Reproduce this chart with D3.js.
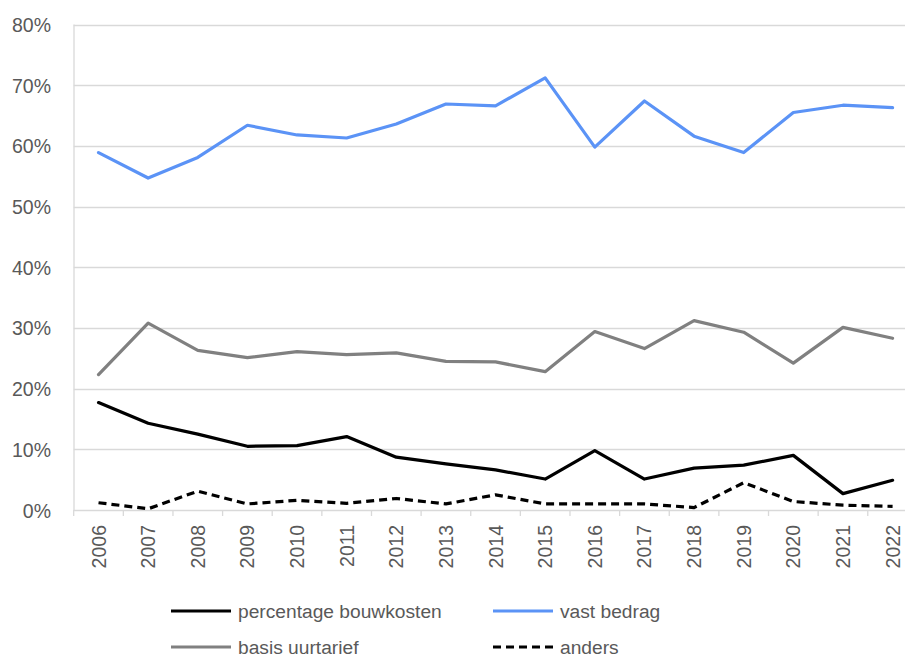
<!DOCTYPE html>
<html><head><meta charset="utf-8">
<script src="https://cdn.jsdelivr.net/npm/d3@7"></script>
<style>
html,body{margin:0;padding:0;background:#fff;}
svg{display:block;}
</style></head>
<body>
<svg id="chart" width="905" height="659"></svg>
<script>
const years = ["2006","2007","2008","2009","2010","2011","2012","2013","2014","2015","2016","2017","2018","2019","2020","2021","2022"];
const percentageBouwkosten = [17.7,14.3,12.5,10.5,10.6,12.1,8.7,7.6,6.6,5.1,9.8,5.1,6.9,7.4,9.0,2.7,4.9];
const vastBedrag = [58.9,54.7,58.1,63.4,61.8,61.3,63.6,66.9,66.6,71.2,59.8,67.4,61.6,58.9,65.5,66.7,66.3];
const basisUurtarief = [22.3,30.8,26.3,25.1,26.1,25.6,25.9,24.5,24.4,22.8,29.4,26.6,31.2,29.3,24.2,30.1,28.3];
const anders = [1.2,0.2,3.1,1.0,1.6,1.1,1.9,1.0,2.5,1.0,1.0,1.0,0.4,4.5,1.4,0.8,0.6];
const yTicks = [0,10,20,30,40,50,60,70,80];

const series = [
  {name:"percentage bouwkosten", values:percentageBouwkosten, color:"#000000", dash:null},
  {name:"vast bedrag", values:vastBedrag, color:"#5b93f6", dash:null},
  {name:"basis uurtarief", values:basisUurtarief, color:"#808080", dash:null},
  {name:"anders", values:anders, color:"#000000", dash:"8,5"}
];

const svg = d3.select("#chart");
const font = "'Liberation Sans', Arial, sans-serif";
const textColor = "#595959";
const gridColor = "#d9d9d9";

const x = d3.scaleBand().domain(years).range([73.7, 917.4]).padding(0);
const y = d3.scaleLinear().domain([0, 80]).range([510, 24.5]);

// gridlines
svg.append("g").selectAll("line").data(yTicks).join("line")
  .attr("x1", 73.7).attr("x2", 917.4)
  .attr("y1", d => Math.round(y(d)) + 0.5).attr("y2", d => Math.round(y(d)) + 0.5)
  .attr("stroke", gridColor).attr("stroke-width", 1.3);

// left axis line
svg.append("line").attr("x1", 74).attr("x2", 74).attr("y1", y(80)).attr("y2", y(0))
  .attr("stroke", gridColor).attr("stroke-width", 1.3);

// y labels
const yAxis = d3.axisLeft(y).tickValues(yTicks).tickSize(0).tickPadding(0).tickFormat(d => d + "%");
const gy = svg.append("g").attr("transform", "translate(51,0)").call(yAxis);
gy.select(".domain").remove();
gy.selectAll("text").attr("font-family", font).attr("font-size", 19.5).attr("fill", textColor).attr("dy", "0.36em");

// x boundary ticks
const bounds = years.map(d => x(d)).concat([x(years[years.length-1]) + x.bandwidth()]);
svg.append("g").selectAll("line").data(bounds).join("line")
  .attr("x1", d => d).attr("x2", d => d).attr("y1", y(0)).attr("y2", y(0) + 6)
  .attr("stroke", gridColor).attr("stroke-width", 1.3);

// x labels
const xAxis = d3.axisBottom(x).tickSize(0).tickPadding(0);
const gx = svg.append("g").attr("transform", `translate(0,${y(0)})`).call(xAxis);
gx.select(".domain").remove();
gx.selectAll("text")
  .attr("font-family", font).attr("font-size", 19.5).attr("fill", textColor)
  .attr("text-anchor", "end").attr("dy", "0.36em").attr("y", 0).attr("x", 0)
  .attr("transform", "translate(0,15) rotate(-90)");

// lines
const line = d3.line().x((d, i) => x(years[i]) + x.bandwidth() / 2).y(d => y(d));
svg.append("g").selectAll("path").data(series).join("path")
  .attr("d", s => line(s.values))
  .attr("fill", "none")
  .attr("stroke", s => s.color)
  .attr("stroke-width", 3.2)
  .attr("stroke-linejoin", "round")
  .attr("stroke-linecap", s => s.dash ? "butt" : "round")
  .attr("stroke-dasharray", s => s.dash);

// legend
const legendPos = [
  {x: 171, y: 611}, {x: 493, y: 611}, {x: 171, y: 647}, {x: 493, y: 647}
];
const lg = svg.append("g").selectAll("g").data(series).join("g")
  .attr("transform", (s, i) => `translate(${legendPos[i].x},${legendPos[i].y})`);
lg.append("line").attr("x1", 0).attr("x2", 60).attr("y1", 0).attr("y2", 0)
  .attr("stroke", s => s.color).attr("stroke-width", 3.2)
  .attr("stroke-dasharray", s => s.dash);
lg.append("text").attr("x", 67).attr("y", 0).attr("dy", "0.34em")
  .attr("font-family", font).attr("font-size", 19.2).attr("fill", textColor)
  .text(s => s.name);
</script>
</body></html>
